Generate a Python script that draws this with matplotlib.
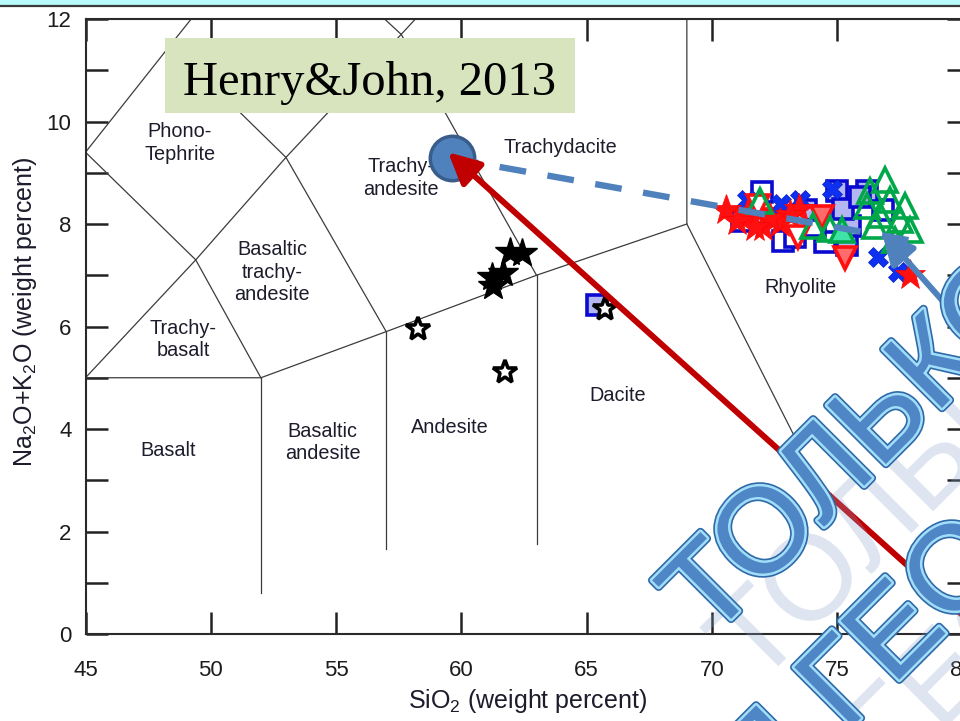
import matplotlib
matplotlib.use("Agg")
import matplotlib.pyplot as plt
import matplotlib.patheffects as pe
from matplotlib.patches import Rectangle
from matplotlib.lines import Line2D

plt.rcParams["font.family"] = ["Liberation Sans", "DejaVu Sans"]
plt.rcParams["mathtext.fontset"] = "custom"
plt.rcParams["mathtext.rm"] = "Liberation Sans"
plt.rcParams["mathtext.it"] = "Liberation Sans:italic"
plt.rcParams["mathtext.bf"] = "Liberation Sans:bold"

# ---------------- TAS field boundaries (SiO2, Na2O+K2O) ----------------
tas_lines = [
    [(45, 9.4), (48.4, 11.5), (52.5, 14)],
    [(45, 9.4), (49.4, 7.3), (52, 5)],
    [(45, 5), (49.4, 7.3), (53, 9.3), (57.6, 11.7), (61, 13.5)],
    [(48.4, 11.5), (53, 9.3), (57, 5.9)],
    [(52.5, 14), (57.6, 11.7), (63, 7)],
    [(45, 5), (52, 5), (57, 5.9), (63, 7), (69, 8)],
    [(52, 0.8), (52, 5)],
    [(57, 1.65), (57, 5.9)],
    [(63, 1.75), (63, 7)],
    [(69, 12), (69, 8), (73.3, 3.85)],
]

field_names = ["Phono-\nTephrite", "Trachy-\nandesite", "Trachydacite",
               "Basaltic\ntrachy-\nandesite", "Trachy-\nbasalt", "Basalt",
               "Basaltic\nandesite", "Andesite", "Dacite", "Rhyolite"]
field_x = [48.77, 57.59, 63.97, 52.46, 48.89, 48.29, 54.46, 59.54, 66.23, 73.54]
field_y = [9.58, 8.90, 9.50, 7.06, 5.75, 3.59, 3.73, 4.02, 4.66, 6.76]

# ---------------- sample compositions ----------------
star_fill_si = [61.94, 62.42, 61.22, 61.66, 61.26]
star_fill_alk = [7.45, 7.43, 6.96, 7.04, 6.80]
star_open_si = [58.27, 61.74, 65.73]
star_open_alk = [5.96, 5.11, 6.35]

sq_white_si = [72.0, 72.83, 74.51, 73.31, 76.82, 74.11, 71.2]
sq_white_alk = [8.62, 7.66, 7.64, 7.74, 8.27, 7.97, 8.05]
sq_lav_si = [65.41, 73.75, 74.99, 75.39, 76.19, 75.51, 75.23, 75.9]
sq_lav_alk = [6.41, 8.27, 8.64, 7.60, 8.64, 7.97, 8.30, 8.52]

red_star_si = [70.55, 71.84, 72.04, 73.47, 72.71, 71.40, 77.90, 73.11, 72.31,
               71.0, 71.7]
red_star_alk = [8.28, 8.23, 7.95, 8.30, 8.01, 8.17, 7.00, 8.17, 8.11,
                8.05, 7.95]

tri_down_open_si = [71.84, 73.43]
tri_down_open_alk = [8.36, 7.74]
tri_down_fill_si = [74.39, 75.31]
tri_down_fill_alk = [8.13, 7.33]

green_tri_si = [76.31, 76.91, 77.10, 76.70, 77.50, 77.90, 77.30, 76.50, 77.70,
                74.03, 74.71, 71.91, 76.2]
green_tri_alk = [8.65, 8.85, 8.46, 8.17, 8.07, 7.88, 7.68, 7.97, 8.36,
                 7.97, 7.91, 8.45, 8.35]
green_tri_fill_si = [75.19]
green_tri_fill_alk = [7.88]

blue_x_si = [71.40, 72.75, 74.79, 76.62, 77.42, 73.51]
blue_x_alk = [8.46, 8.40, 8.69, 7.35, 7.06, 8.46]

# Henry & John (2013) composition and annotation arrows
hj_si, hj_alk = 59.62, 9.28
red_arrow_tip = (59.47, 9.40)
red_arrow_tail = (82.0, -0.51)
dash_end = (77.90, 7.68)
blue_arrow_tip = (76.78, 7.84)
blue_arrow_tail = (81.0, 5.51)

# ---------------- figure ----------------
W, H = 960, 721
fig = plt.figure(figsize=(W / 100, H / 100), dpi=100)
fig.patch.set_facecolor("white")

# slide header strip
fig.add_artist(Rectangle((0, 1 - 5 / H), 1, 5 / H, transform=fig.transFigure,
                         facecolor="#b8fafa", edgecolor="none", zorder=1))
fig.add_artist(Line2D([0, 1], [1 - 5.5 / H, 1 - 5.5 / H], transform=fig.transFigure,
                      color="#3a3a3a", lw=1.6, zorder=2))

ax = fig.add_axes([85.5 / W, 1 - 634 / H, (969 - 85.5) / W, (634 - 19) / H])
ax.set_xlim(45, 80.26)
ax.set_ylim(0, 12)

for seg in tas_lines:
    xs, ys = zip(*seg)
    ax.plot(xs, ys, color="#3c3c3c", lw=0.9, zorder=2)

for name, x, y in zip(field_names, field_x, field_y):
    ax.text(x, y, name, ha="center", va="center", fontsize=14.3,
            color="#1c1c2c", linespacing=1.22, zorder=3)

# sample markers
ax.plot(sq_white_si, sq_white_alk, ls="none", marker="s", ms=14, mew=2.6,
        mfc="white", mec="#0a0ad0", zorder=4)
ax.plot(sq_lav_si, sq_lav_alk, ls="none", marker="s", ms=14, mew=2.6,
        mfc="#b4b6f2", mec="#0a0ad0", zorder=4)
ax.plot(blue_x_si, blue_x_alk, ls="none", marker="X", ms=14, mew=0.5,
        mfc="#1030f0", mec="#0020d0", zorder=5)
ax.plot(red_star_si, red_star_alk, ls="none", marker="*", ms=23, mew=0.5,
        mfc="#ff1010", mec="#ff0000", zorder=5)
ax.plot(tri_down_open_si, tri_down_open_alk, ls="none", marker="v", ms=16,
        mew=2.6, mfc="white", mec="#ff1010", zorder=5)
ax.plot(tri_down_fill_si, tri_down_fill_alk, ls="none", marker="v", ms=16,
        mew=2.6, mfc="#ff6a6a", mec="#ff1010", zorder=5)
ax.plot(green_tri_si, green_tri_alk, ls="none", marker="^", ms=17, mew=2.6,
        mfc="none", mec="#00a84a", zorder=6)
ax.plot(green_tri_fill_si, green_tri_fill_alk, ls="none", marker="^", ms=17,
        mew=2.6, mfc="#3fe3a8", mec="#00a84a", zorder=6)
ax.plot(star_fill_si, star_fill_alk, ls="none", marker="*", ms=22, mew=1,
        mfc="black", mec="black", zorder=6)
ax.plot(star_open_si, star_open_alk, ls="none", marker="*", ms=18, mew=2.6,
        mfc="white", mec="black", zorder=6)

# Henry & John point with connecting lines and arrows
ax.plot([hj_si], [hj_alk], ls="none", marker="o", ms=32, mew=2.5,
        mfc="#4f81bd", mec="#385d8a", zorder=7, clip_on=False)
ax.plot([hj_si, dash_end[0]], [hj_alk, dash_end[1]], color="#4f81bd", lw=4.6,
        ls=(0, (4.2, 3.4)), zorder=8, solid_capstyle="butt")
ax.annotate("", xy=red_arrow_tip, xytext=red_arrow_tail,
            arrowprops=dict(arrowstyle="-|>,head_length=0.5,head_width=0.25",
                            mutation_scale=38, color="#c00000", lw=4.3,
                            shrinkA=0, shrinkB=0),
            annotation_clip=False, zorder=9)
ax.annotate("", xy=blue_arrow_tip, xytext=blue_arrow_tail,
            arrowprops=dict(arrowstyle="-|>,head_length=0.5,head_width=0.25",
                            mutation_scale=38, color="#4f81bd", lw=4.3,
                            shrinkA=0, shrinkB=0),
            annotation_clip=False, zorder=9)

# axes styling
ax.set_xticks(range(45, 81, 5))
ax.set_yticks(range(0, 13, 2))
ax.set_yticks(range(1, 12, 2), minor=True)
ax.tick_params(which="both", direction="in", top=True, right=True,
               length=16, width=1.8, color="#222222")
ax.tick_params(axis="x", labelsize=16, pad=19, labelcolor="#1c1c1c")
ax.tick_params(axis="y", labelsize=16, pad=10, labelcolor="#1c1c1c")
for sp in ax.spines.values():
    sp.set_linewidth(1.5)
    sp.set_color("#2a2a2a")
ax.set_xlabel("SiO$_2$ (weight percent)", fontsize=18, color="#1c1c2c",
              labelpad=4)
ax.set_ylabel("Na$_2$O+K$_2$O (weight percent)", fontsize=18,
              color="#1c1c2c")
ax.yaxis.set_label_coords(-0.053, 0.523)

# reference box
fig.add_artist(Rectangle((165 / W, 1 - 113 / H), 410 / W, 75 / H,
                         transform=fig.transFigure, facecolor="#d7e4bd",
                         edgecolor="none", zorder=5))
fig.text(183 / W, 1 - 95 / H, "Henry&John, 2013", family="Liberation Serif",
         fontsize=35, color="black", ha="left", va="baseline", zorder=6)

# watermark lettering
wm_effects = [
    pe.SimplePatchShadow(offset=(34, -34), shadow_rgbFace="#8aa4cf", alpha=0.28),
    pe.Stroke(linewidth=6, foreground="#2f6aa8"),
    pe.Stroke(linewidth=3.6, foreground="#a2defa"),
    pe.Normal(),
]
wm_style = dict(family="Liberation Sans", fontsize=87, color="#4f86c6",
                rotation=45, rotation_mode="anchor", va="baseline", zorder=20,
                path_effects=wm_effects)
fig.text(709 / W, 1 - 641 / H, "ТОЛЬКО", ha="left", **wm_style)
fig.text(846 / W, 1 - 733 / H, "ГЕОЛОГОВ", ha="left", **wm_style)
fig.text(822 / W, 1 - 757 / H, "ДЛЯ", ha="right", **wm_style)

fig.savefig("out.png", dpi=100)
